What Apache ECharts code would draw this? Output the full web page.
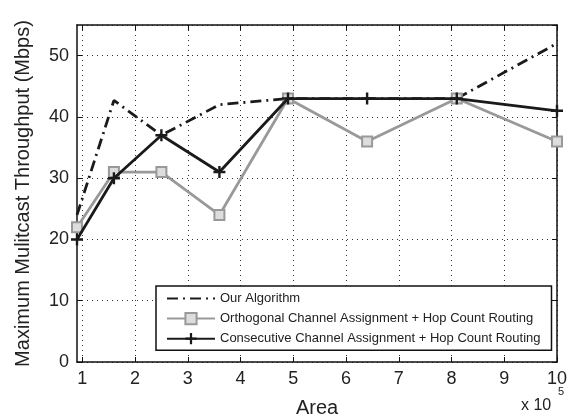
<!DOCTYPE html>
<html>
<head>
<meta charset="utf-8">
<script src="https://cdn.jsdelivr.net/npm/echarts@6/dist/echarts.min.js"></script>
<style>html,body{margin:0;padding:0;background:#fff}#c{width:570px;height:419px}</style>
</head>
<body>
<div id="c"></div>
<script>
// Area (x 10^5)
var areas = [0.9, 1.6, 2.5, 3.6, 4.9, 6.4, 8.1, 10];
var ourAlgorithm = [24, 42.7, 37, 42, 43, 43, 43, 52];
var orthogonal = [22, 31, 31, 24, 43, 36, 43, 36];
var consecutive = [20, 30, 37, 31, 43, 43, 43, 41];
var xTicks = [1, 2, 3, 4, 5, 6, 7, 8, 9, 10];
var yTicks = [0, 10, 20, 30, 40, 50];
var seriesNames = ['Our Algorithm', 'Orthogonal Channel Assignment + Hop Count Routing', 'Consecutive Channel Assignment + Hop Count Routing'];

function pairs(ys) { return areas.map(function (x, i) { return [x, ys[i]]; }); }

var FONT = 'Liberation Sans, Arial, Helvetica, sans-serif';
var plus = 'path://M4,0H6V4H10V6H6V10H4V6H0V4H4Z';

var chart = echarts.init(document.getElementById('c'), null, {renderer: 'canvas'});
var axisLine = {show: true, onZero: false, lineStyle: {color: '#111', width: 1.5}};
var splitDotted = {show: true, lineStyle: {color: '#333', type: [1, 4], width: 1}};
chart.setOption({
  animation: false,
  backgroundColor: '#fff',
  grid: {left: 77, right: 13, top: 25, bottom: 57, containLabel: false, outerBoundsMode: 'none'},
  xAxis: [{
    type: 'value', min: 0.9, max: 10,
    axisLine: axisLine,
    axisTick: {show: true, inside: true, length: 5, customValues: xTicks, lineStyle: {color: '#111', width: 1}},
    axisLabel: {customValues: xTicks, color: '#222', fontSize: 18, fontFamily: FONT, margin: 8},
    splitLine: splitDotted,
    name: 'Area', nameLocation: 'middle', nameGap: 36,
    nameTextStyle: {fontSize: 20, color: '#222', fontFamily: FONT}
  }, {
    type: 'value', min: 0.9, max: 10, position: 'top',
    axisLine: axisLine,
    axisTick: {show: true, inside: true, length: 5, customValues: xTicks, lineStyle: {color: '#111', width: 1}},
    axisLabel: {show: false, customValues: xTicks},
    splitLine: {show: false}
  }],
  yAxis: [{
    type: 'value', min: 0, max: 55, interval: 10,
    axisLine: axisLine,
    axisTick: {show: true, inside: true, length: 5, lineStyle: {color: '#111', width: 1}},
    axisLabel: {color: '#222', fontSize: 18, fontFamily: FONT, margin: 8, showMaxLabel: false},
    splitLine: splitDotted,
    name: 'Maximum Mulitcast Throughput (Mbps)', nameLocation: 'middle', nameGap: 44,
    nameTextStyle: {fontSize: 20, color: '#222', fontFamily: FONT}
  }, {
    type: 'value', min: 0, max: 55, interval: 10, position: 'right',
    axisLine: axisLine,
    axisTick: {show: true, inside: true, length: 5, lineStyle: {color: '#111', width: 1}},
    axisLabel: {show: false},
    splitLine: {show: false}
  }],
  legend: {
    orient: 'vertical', left: 156, top: 286,
    padding: [6, 11, 5, 10],
    itemWidth: 48, itemHeight: 14, itemGap: 7,
    backgroundColor: '#fff', borderColor: '#111', borderWidth: 1.5, borderRadius: 0,
    textStyle: {fontSize: 13, color: '#222', fontFamily: FONT},
    data: [
      {name: seriesNames[0], itemStyle: {opacity: 0}},
      {name: seriesNames[1]},
      {name: seriesNames[2]}
    ]
  },
  series: [{
    name: seriesNames[0], type: 'line', data: pairs(ourAlgorithm),
    symbol: 'none', z: 2,
    lineStyle: {color: '#1a1a1a', width: 2.8, type: [11, 5, 2, 5]},
    itemStyle: {color: '#1a1a1a'}
  }, {
    name: seriesNames[1], type: 'line', data: pairs(orthogonal),
    symbol: 'rect', symbolSize: 10, z: 3,
    lineStyle: {color: '#999', width: 2.8},
    itemStyle: {color: '#ddd', borderColor: '#999', borderWidth: 2}
  }, {
    name: seriesNames[2], type: 'line', data: pairs(consecutive),
    symbol: plus, symbolSize: 12, z: 4,
    lineStyle: {color: '#1a1a1a', width: 2.8},
    itemStyle: {color: '#1a1a1a'}
  }],
  graphic: [{
    type: 'text', left: 521, top: 398,
    style: {text: 'x 10', fontSize: 16, fill: '#222', fontFamily: FONT}
  }, {
    type: 'text', left: 558, top: 386,
    style: {text: '5', fontSize: 11, fill: '#222', fontFamily: FONT}
  }]
});
</script>
</body>
</html>
